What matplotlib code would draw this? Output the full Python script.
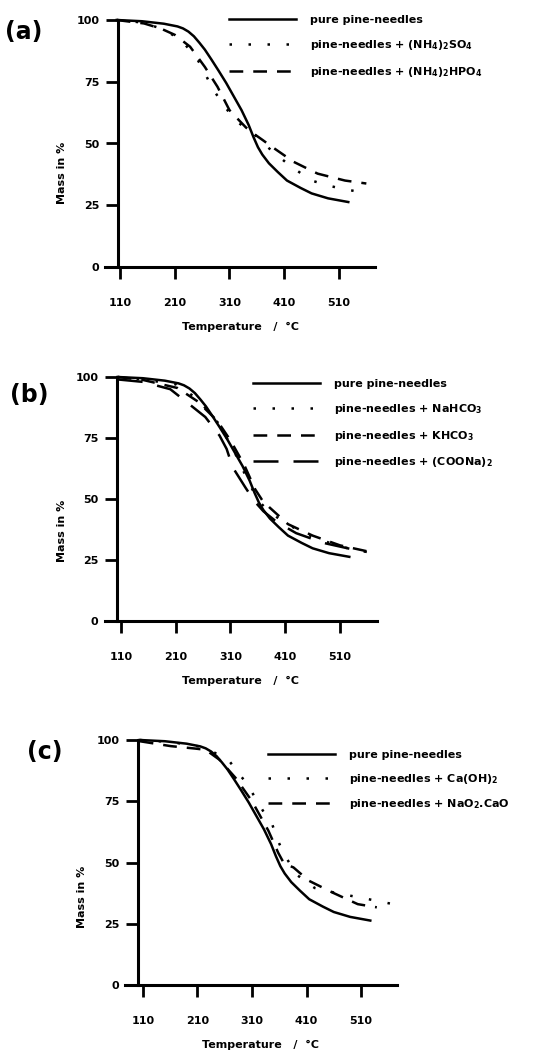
import matplotlib
matplotlib.use('Agg')
import matplotlib.pyplot as plt

plt.rcParams['font.family'] = ['DejaVu Sans']
plt.rcParams['font.weight'] = 'bold'
plt.rcParams['mathtext.fontset'] = 'dejavusans'
plt.rcParams['mathtext.default'] = 'bf'

x_ticks = [110, 210, 310, 410, 510]
y_ticks = [0, 25, 50, 75, 100]

# pure pine-needles (same in all three panels)
t_pure = [104, 150, 190, 215, 225, 235, 245, 255, 265, 277, 290, 304, 318, 332, 345, 354, 362, 370, 382, 398, 415, 440, 460, 490, 527]
m_pure = [100, 99.5, 98.5, 97.4, 96.6, 95.3, 93.4, 90.8, 88, 84, 79.5, 74.5, 69, 63.5, 57.5, 52.5, 48.5, 45.5, 42, 38.5, 35, 32, 29.8, 27.8, 26.3]

# (a)
t_nh4so4 = [104, 150, 193, 225, 249, 263, 277, 293, 308, 321, 337, 354, 372, 393, 415, 440, 460, 490, 513, 545]
m_nh4so4 = [100, 99, 96, 91, 85, 79.5, 73, 67.6, 63, 59.5, 56.5, 54, 50, 46, 42, 38, 35, 33, 31.8, 30.5]
t_nh4hpo4 = [104, 154, 185, 210, 238, 265, 288, 310, 327, 340, 354, 370, 388, 427, 471, 521, 560]
m_nh4hpo4 = [100, 98.6, 96.5, 94, 89.2, 81, 73, 63.5, 59.5, 56.5, 54, 51.5, 48.6, 42.6, 37.8, 35, 33.8]

# (b)
t_nahco3 = [104, 150, 210, 250, 290, 320, 345, 362, 380, 410, 460, 510, 555]
m_nahco3 = [100, 99, 97, 91, 80.5, 68, 56, 49, 45, 40, 34.5, 30.5, 28.5]
t_khco3 = [104, 150, 213, 250, 286, 310, 335, 355, 368, 381, 415, 460, 510, 559]
m_khco3 = [100, 98.8, 95.5, 90, 82, 74, 64, 54, 49.5, 46.6, 39.7, 35, 31, 28.6]
t_coona = [104, 150, 200, 230, 264, 290, 303, 314, 337, 353, 370, 395, 430, 480, 530, 559]
m_coona = [99, 98, 95, 89.7, 83.6, 76, 70.5, 63, 54.8, 49.3, 45, 40.5, 36, 32, 29.5, 28.3]

# (c)
t_caoh = [104, 160, 215, 240, 268, 301, 332, 347, 358, 369, 392, 425, 465, 513, 569]
m_caoh = [100, 99.2, 97.3, 95, 91.5, 82, 70.4, 65.6, 58.7, 53.3, 45, 39.6, 37.5, 35.5, 33]
t_naocao = [104, 161, 206, 225, 250, 280, 310, 340, 358, 369, 386, 414, 459, 504, 539]
m_naocao = [99.5, 97.5, 96.5, 96, 92, 84.5, 75, 63, 54, 49.5, 48, 42.6, 37.6, 33, 31.7]

SOLID = '-'
DOT = (0, (1, 6.6))
DASH = (0, (5.5, 4))
LDASH = (0, (10, 6))

W, H = 560, 1057
fig = plt.figure(figsize=(W / 100, H / 100), dpi=100)


def px_axes(left, right, top, bottom):
    return fig.add_axes([left / W, 1 - bottom / H, (right - left) / W, (bottom - top) / H])


def setup(ax, xlim, yaxis_px, width_px, label_y):
    ax.set_xlim(*xlim)
    ax.set_ylim(0, 100)
    for s in ['top', 'right']:
        ax.spines[s].set_visible(False)
    ax.spines['left'].set_position(('axes', yaxis_px / width_px))
    ax.spines['left'].set_bounds(0, 100)
    ax.spines['left'].set_linewidth(2.2)
    ax.spines['bottom'].set_linewidth(2.2)
    ax.set_xticks(x_ticks)
    ax.set_yticks(y_ticks)
    ax.tick_params(axis='x', direction='out', length=8.5, width=2, labelsize=8, pad=14)
    ax.tick_params(axis='y', direction='out', length=8.5, width=2, labelsize=8, pad=5)
    ax.set_xlabel('Temperature   /  °C', fontsize=8, fontweight='bold', labelpad=10)
    ax.set_ylabel('Mass in %', fontsize=8, fontweight='bold')
    ax.yaxis.set_label_coords(-0.14, label_y)


def legend(ax, x_px, y_px, **kw):
    leg = ax.legend(loc='upper left', bbox_to_anchor=(x_px / W, 1 - y_px / H),
                    bbox_transform=fig.transFigure, frameon=False, fontsize=8,
                    borderpad=0, borderaxespad=0, handlelength=6.0,
                    handletextpad=1.25, **kw)
    return leg


# ---- (a)
ax = px_axes(105, 375, 20, 267)
ax.plot(t_pure, m_pure, color='black', lw=1.8, ls=SOLID, clip_on=False, label='pure pine-needles')
ax.plot(t_nh4so4, m_nh4so4, color='black', lw=1.8, ls=DOT, clip_on=False,
        label='pine-needles + (NH$_4$)$_2$SO$_4$')
ax.plot(t_nh4hpo4, m_nh4hpo4, color='black', lw=1.8, ls=DASH, clip_on=False,
        label='pine-needles + (NH$_4$)$_2$HPO$_4$')
setup(ax, (82.6, 575.8), 13, 270, 0.38)
legend(ax, 229, 15, labelspacing=1.17)
fig.text(5 / W, 1 - 32 / H, '(a)', fontsize=17, fontweight='bold', va='center', ha='left')

# ---- (b)
ax = px_axes(105, 377, 377, 621)
ax.plot(t_pure, m_pure, color='black', lw=1.8, ls=SOLID, clip_on=False, label='pure pine-needles')
ax.plot(t_nahco3, m_nahco3, color='black', lw=1.8, ls=DOT, clip_on=False,
        label='pine-needles + NaHCO$_3$')
ax.plot(t_khco3, m_khco3, color='black', lw=1.8, ls=DASH, clip_on=False,
        label='pine-needles + KHCO$_3$')
ax.plot(t_coona, m_coona, color='black', lw=1.8, ls=LDASH, clip_on=False,
        label='pine-needles + (COONa)$_2$')
setup(ax, (80.8, 577.6), 12, 272, 0.37)
legend(ax, 253, 379, labelspacing=1.15)
fig.text(10 / W, 1 - 395 / H, '(b)', fontsize=17, fontweight='bold', va='center', ha='left')

# ---- (c)
ax = px_axes(125, 397, 740, 985)
ax.plot(t_pure, m_pure, color='black', lw=1.8, ls=SOLID, clip_on=False, label='pure pine-needles')
ax.plot(t_caoh, m_caoh, color='black', lw=1.8, ls=DOT, clip_on=False,
        label='pine-needles + Ca(OH)$_2$')
ax.plot(t_naocao, m_naocao, color='black', lw=1.8, ls=DASH, clip_on=False,
        label='pine-needles + NaO$_2$.CaO')
setup(ax, (77.0, 576.0), 13, 272, 0.36)
legend(ax, 268, 750, labelspacing=1.05)
fig.text(27 / W, 1 - 752 / H, '(c)', fontsize=17, fontweight='bold', va='center', ha='left')

fig.savefig('out.png', dpi=100)
